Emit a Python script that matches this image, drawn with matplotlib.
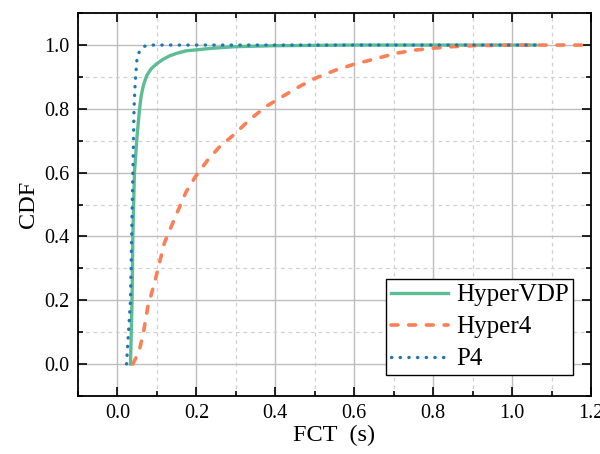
import numpy as np
import matplotlib
matplotlib.use("Agg")
import matplotlib.pyplot as plt
from matplotlib.ticker import MultipleLocator, FormatStrFormatter

# CDF curves
vdp_x = [0.033, 0.035, 0.037, 0.039, 0.043, 0.050, 0.056, 0.060, 0.066, 0.074, 0.085,
         0.098, 0.115, 0.132, 0.150, 0.174, 0.200, 0.240, 0.300, 0.400, 0.600, 0.800, 1.060]
vdp_y = [0.0, 0.1, 0.2, 0.4, 0.6, 0.72, 0.8, 0.84, 0.875, 0.904, 0.925,
         0.94, 0.955, 0.966, 0.974, 0.982, 0.985, 0.99, 0.995, 0.998, 1.0, 1.0, 1.0]

h4_x = [0.039, 0.047, 0.056, 0.066, 0.077, 0.094, 0.105, 0.119, 0.136, 0.153, 0.174,
        0.199, 0.229, 0.258, 0.296, 0.334, 0.376, 0.420, 0.461, 0.503, 0.554, 0.600,
        0.651, 0.705, 0.752, 0.798, 0.849, 0.900, 1.000, 1.100, 1.200]
h4_y = [0.0, 0.02, 0.046, 0.1, 0.18, 0.255, 0.31, 0.38, 0.43, 0.48, 0.54,
        0.59, 0.64, 0.68, 0.72, 0.765, 0.807, 0.84, 0.87, 0.897, 0.922, 0.94,
        0.956, 0.974, 0.984, 0.99, 0.995, 0.998, 1.0, 1.0, 1.0]

p4_x = [0.023, 0.028, 0.033, 0.036, 0.039, 0.042, 0.044, 0.046, 0.049, 0.052, 0.056,
        0.062, 0.070, 0.080, 0.300, 0.600, 1.060]
p4_y = [0.0, 0.1, 0.2, 0.4, 0.6, 0.8, 0.86, 0.9, 0.95, 0.97, 0.98,
        0.99, 0.997, 1.0, 1.0, 1.0, 1.0]

plt.rcParams['font.family'] = ['Liberation Serif', 'DejaVu Serif']

fig = plt.figure(figsize=(6.0, 4.54), dpi=100)
ax = fig.add_axes([0.13, 0.128, 0.855, 0.843])

ax.plot(vdp_x, vdp_y, color='#5cbd95', lw=2.4, label='HyperVDP', zorder=3)
ax.plot(h4_x, h4_y, color='#fc7f55', lw=2.6, ls=(0, (1.9, 3.0)),
        dash_capstyle='round', label='Hyper4', zorder=3)
ax.plot(p4_x, p4_y, color='#1f77b4', lw=2.4, ls=(0, (0.1, 2.5)),
        dash_capstyle='round', label='P4', zorder=4)

ax.set_xlim(-0.1, 1.2)
ax.set_ylim(-0.1, 1.1)
ax.xaxis.set_major_locator(MultipleLocator(0.2))
ax.xaxis.set_minor_locator(MultipleLocator(0.1))
ax.yaxis.set_major_locator(MultipleLocator(0.2))
ax.yaxis.set_minor_locator(MultipleLocator(0.1))
ax.xaxis.set_major_formatter(FormatStrFormatter('%.1f'))
ax.yaxis.set_major_formatter(FormatStrFormatter('%.1f'))

ax.grid(which='major', color='#bdbdbd', lw=1.0, ls='-')
ax.grid(which='minor', color='#d0d0d0', lw=0.9, ls=(0, (3, 3)))
ax.set_axisbelow(True)

ax.tick_params(which='both', direction='in', top=True, right=True,
               width=1.2, labelsize=14.5)
ax.tick_params(which='major', length=6.5, pad=6)
ax.tick_params(which='minor', length=3.8)
for s in ax.spines.values():
    s.set_linewidth(1.3)

ax.set_xlabel('FCT  (s)', fontsize=17.5, labelpad=1)
ax.set_ylabel('CDF', fontsize=17.5, labelpad=4)

# legend box sits a little inside the lower right corner
leg = ax.legend(loc='lower right', bbox_to_anchor=(0.965, 0.055), borderaxespad=0,
                fontsize=18, frameon=True, fancybox=False, edgecolor='black',
                framealpha=1, handlelength=2.3, borderpad=0.18, labelspacing=0.38,
                handletextpad=0.3)
leg.get_frame().set_linewidth(1.0)

fig.savefig('out.png', dpi=100)
